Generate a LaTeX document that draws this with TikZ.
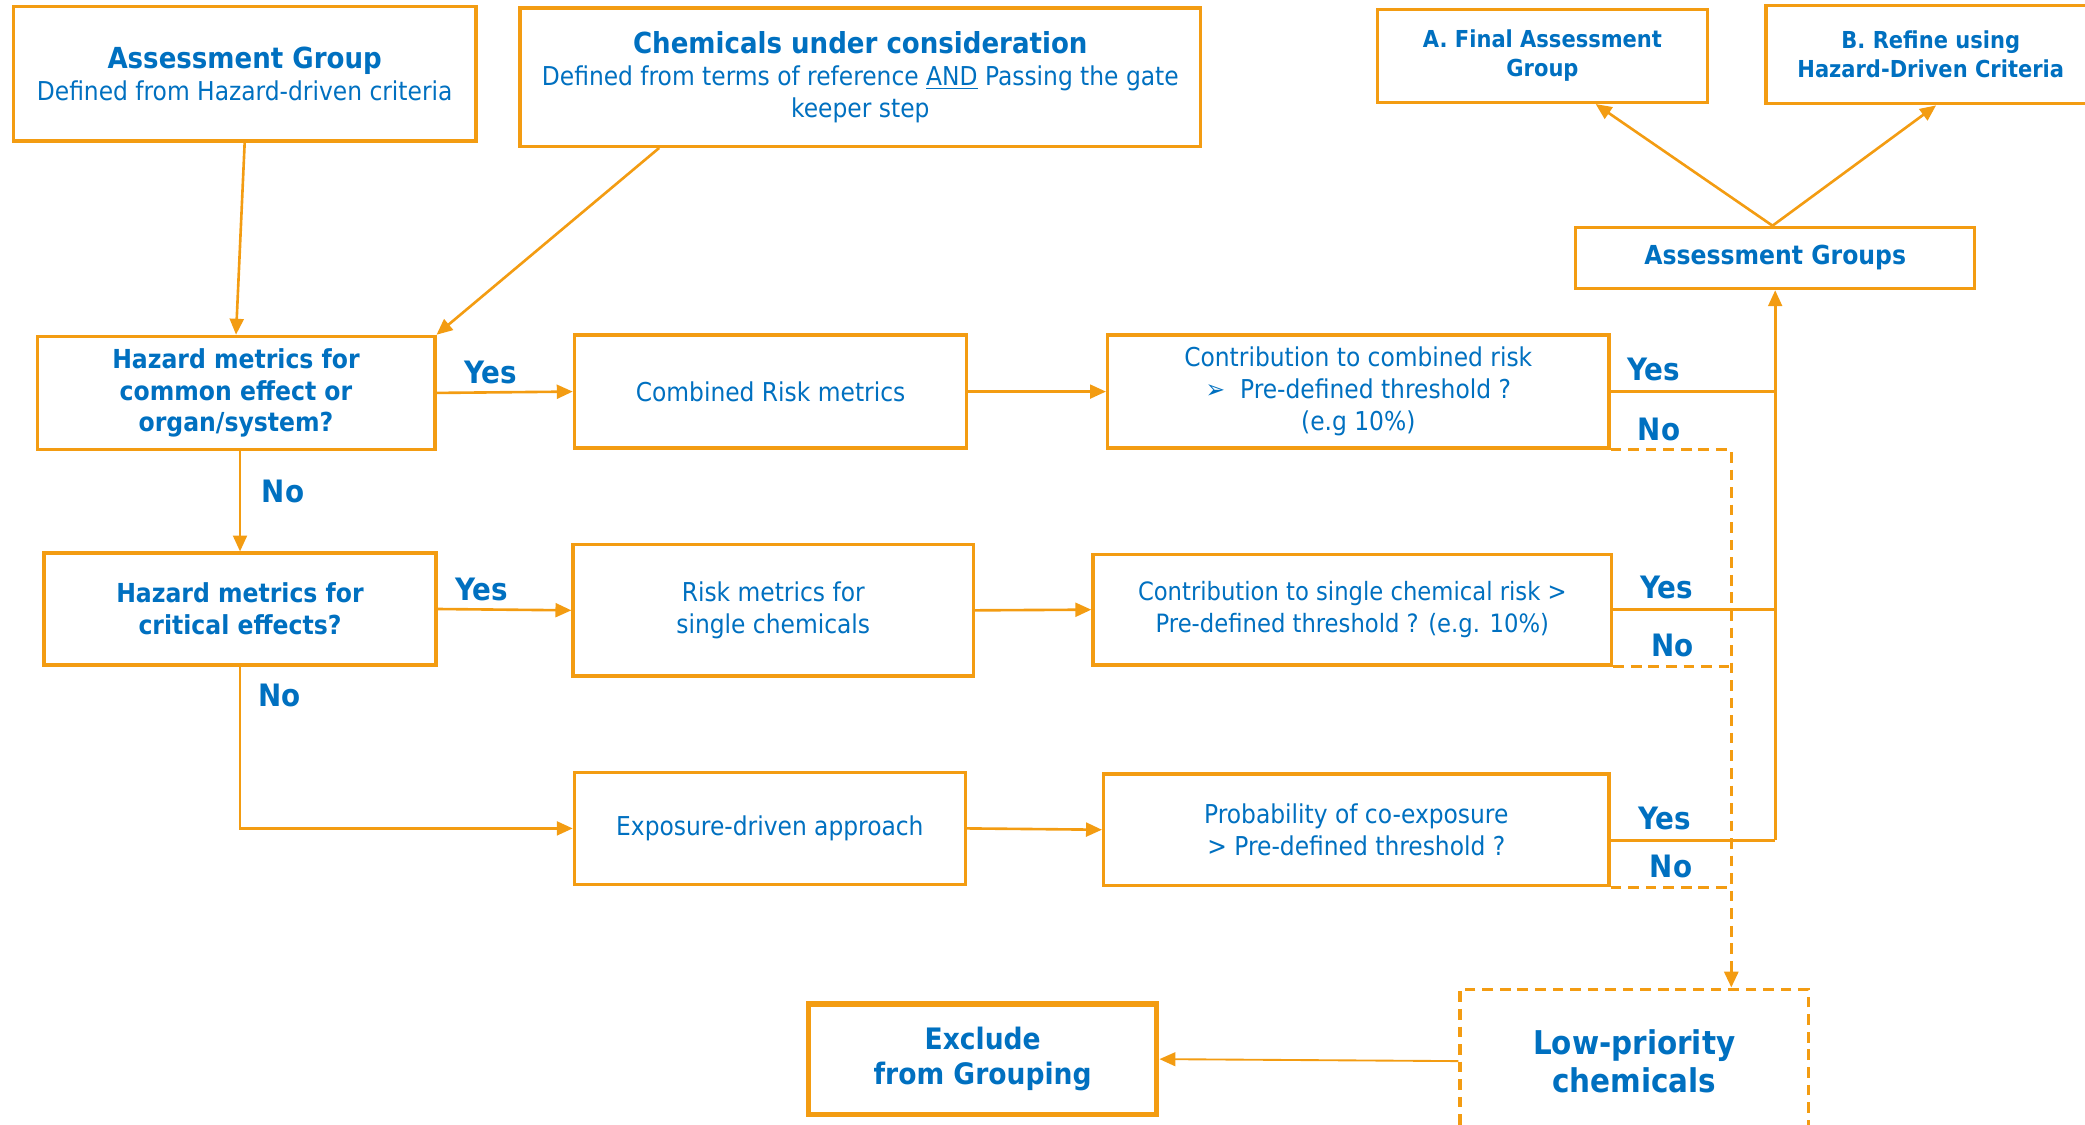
\documentclass[tikz,border=0pt]{standalone}
\usepackage{fontspec}
\setmainfont{DejaVu Sans Condensed}
\usetikzlibrary{arrows.meta,positioning}
\definecolor{boxorange}{RGB}{243,156,18}
\definecolor{textblue}{RGB}{0,112,192}
\tikzset{
  box/.style={draw=boxorange,line width=1.8pt,align=center,text=textblue,inner sep=2pt,font=\fontsize{13.9}{17}\selectfont},
  bbox/.style={box,font=\bfseries\fontsize{14}{17}\selectfont},
  flow/.style={draw=boxorange,line width=1.4pt,-{Triangle[length=3mm,width=2.6mm]}},
  plain/.style={draw=boxorange,line width=1.4pt},
  dashline/.style={draw=boxorange,line width=1.8pt,dash pattern=on 2mm off 1.3mm},
  lab/.style={text=textblue,font=\bfseries\fontsize{16.5}{18}\selectfont,inner sep=1pt}
}
\newcommand{\titletext}{\bfseries\fontsize{15.5}{19}\selectfont}
\begin{document}
\begin{tikzpicture}[x=0.25mm,y=-0.25mm]
\useasboundingbox (0,0) rectangle (1568,846);
\node[box,minimum width=87mm,minimum height=25.25mm] (AG) at (184,55.5) {{\titletext Assessment Group}\\Defined from Hazard-driven criteria};
\node[box,minimum width=128mm,minimum height=26mm] (CUC) at (647,58) {{\titletext Chemicals under consideration}\\Defined from terms of reference \underline{AND} Passing the gate\\keeper step};
\node[bbox,minimum width=62mm,minimum height=17.5mm,font=\bfseries\fontsize{12.5}{15.5}\selectfont] (FAG) at (1160,42) {A. Final Assessment\\Group};
\node[bbox,minimum width=62mm,minimum height=18.5mm,font=\bfseries\fontsize{12.5}{15.5}\selectfont] (REF) at (1452,41) {B. Refine using\\Hazard-Driven Criteria};
\node[bbox,minimum width=75mm,minimum height=11.5mm] (AGS) at (1335,194) {Assessment Groups};
\node[bbox,minimum width=74.75mm,minimum height=21.25mm] (H1) at (177.5,295.5) {Hazard metrics for\\common effect or\\organ/system?};
\node[box,minimum width=73.75mm,minimum height=21.25mm] (CRM) at (579.5,294.5) {Combined Risk metrics};
\node[box,minimum width=94.25mm,minimum height=21.25mm] (C1) at (1021.5,294.5) {Contribution to combined risk\\➢~ Pre-defined threshold ?\\(e.g 10\%)};
\node[bbox,minimum width=73.75mm,minimum height=21mm] (H2) at (180.5,458) {Hazard metrics for\\critical effects?};
\node[box,minimum width=75.25mm,minimum height=24.75mm] (RMS) at (581.5,459) {Risk metrics for\\single chemicals};
\node[box,minimum width=97.5mm,minimum height=20.75mm,font=\fontsize{13.5}{17}\selectfont] (C2) at (1017,458.5) {Contribution to single chemical risk >\\Pre-defined threshold ? (e.g. 10\%)};
\node[box,minimum width=73.5mm,minimum height=21mm] (EDA) at (579,623) {Exposure-driven approach};
\node[box,minimum width=95mm,minimum height=21mm] (PCE) at (1020,624) {Probability of co-exposure\\> Pre-defined threshold ?};
\node[bbox,line width=2.8pt,minimum width=65.5mm,minimum height=20.75mm,font=\bfseries\fontsize{15.8}{19}\selectfont] (EXC) at (739,796.5) {Exclude\\from Grouping};
\node[bbox,dashline,minimum width=65.5mm,minimum height=27mm,font=\bfseries\fontsize{17.5}{20}\selectfont] (LPC) at (1229,798) {Low-priority\\chemicals};
\coordinate (lp) at ([xshift=18.25mm]LPC.north);
\draw[flow] (AG.south) -- (H1.north);
\draw[flow] ([xshift=26.5mm]CUC.south west) -- (H1.north east);
\draw[flow] (H1.east) -- (CRM.west) node[pos=0.4,above=3pt,lab] {Yes};
\draw[flow] (CRM.east) -- (C1.west);
\draw[flow] (H2.north |- H1.south) -- (H2.north) node[pos=0.4,right=10pt,lab] {No};
\draw[flow] (H2.east) -- (RMS.west) node[pos=0.33,above=3pt,lab] {Yes};
\draw[flow] (RMS.east) -- (C2.west);
\draw[flow] (H2.south) |- (EDA.west) node[pos=0.09,right=8pt,lab] {No};
\draw[flow] (EDA.east) -- (PCE.west);
\draw[plain] (C1.east) -- (C1.east -| AGS.south) node[pos=0.26,above=4pt,lab] {Yes};
\draw[plain] (C2.east) -- (C2.east -| AGS.south) node[pos=0.33,above=4pt,lab] {Yes};
\draw[plain] ([yshift=-2mm]PCE.east) -- ([yshift=-2mm]PCE.east -| AGS.south) node[pos=0.33,above=4pt,lab] {Yes};
\draw[flow] ([yshift=-2mm]PCE.east -| AGS.south) -- (AGS.south);
\draw[dashline,-{Triangle[length=3mm,width=2.6mm]}] (C1.south east) -| (lp) node[pos=0.2,above=3pt,lab] {No};
\draw[dashline] (C2.south east) -- (C2.south east -| lp) node[midway,above=3pt,lab] {No};
\draw[dashline] (PCE.south east) -- (PCE.south east -| lp) node[midway,above=3pt,lab] {No};
\draw[flow] ([xshift=-0.5mm]AGS.north) -- ([xshift=10mm]FAG.south);
\draw[flow] ([xshift=-0.5mm]AGS.north) -- ([xshift=1mm]REF.south);
\draw[flow,line width=1pt] (LPC.west) -- (EXC.east);
\end{tikzpicture}
\end{document}
